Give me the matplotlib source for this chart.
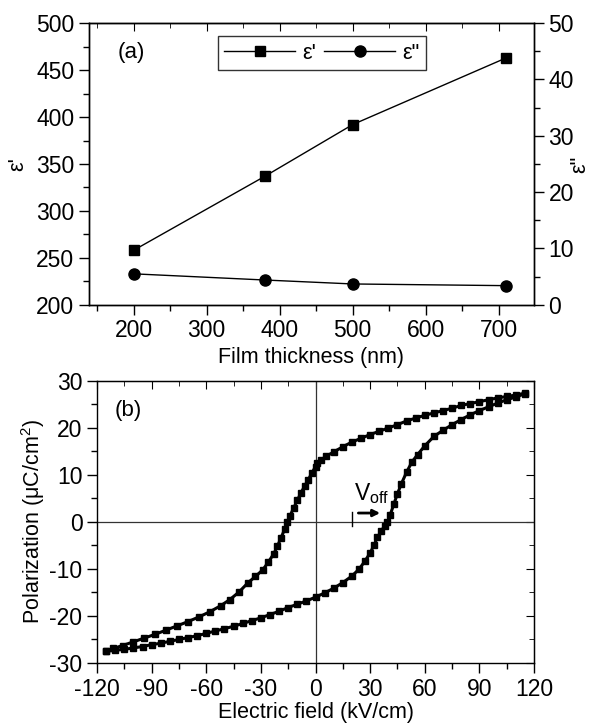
import matplotlib
matplotlib.use("Agg")
import matplotlib.pyplot as plt
from matplotlib.ticker import MultipleLocator

plt.rcParams['font.family'] = ['Liberation Sans', 'DejaVu Sans']
plt.rcParams['mathtext.fontset'] = 'custom'
plt.rcParams['mathtext.rm'] = 'Liberation Sans'
plt.rcParams['mathtext.it'] = 'Liberation Sans:italic'
plt.rcParams['axes.unicode_minus'] = False

# panel (a): dielectric constant vs film thickness
thickness = [200, 380, 500, 710]
eps_real = [258, 337, 392, 463]
eps_imag = [5.5, 4.4, 3.7, 3.4]

# panel (b): hysteresis loop, upper (descending field) branch
e_down = [115, 110, 105, 100, 95, 90, 85, 80, 75, 70, 65, 60, 55, 50, 45, 40,
          35, 30, 25, 20, 15, 10, 6, 3, 1, 0, -2, -4, -6, -8, -10, -12, -14,
          -15.5, -17, -19, -21, -23, -26, -29, -33, -37, -42, -47, -52, -58,
          -64, -70, -76, -82, -88, -94, -100, -106, -111, -115]
p_down = [27.4, 27.0, 26.7, 26.4, 26.0, 25.6, 25.2, 24.8, 24.2, 23.7, 23.2,
          22.7, 22.1, 21.5, 20.7, 20.0, 19.3, 18.6, 17.8, 17.0, 16.0, 14.9,
          14.0, 13.2, 12.5, 11.8, 10.4, 9.0, 7.6, 6.2, 4.6, 3.0, 1.3, 0.0,
          -1.6, -3.4, -5.2, -6.8, -8.6, -10.2, -11.6, -12.9, -14.9, -16.5,
          -17.8, -19.1, -20.2, -21.2, -22.1, -23.0, -23.9, -24.7, -25.5,
          -26.3, -26.9, -27.4]
# lower (ascending field) branch
e_up = [-115, -110, -105, -100, -95, -90, -85, -80, -75, -70, -65, -60, -55,
        -50, -45, -40, -35, -30, -25, -20, -15, -10, -5, 0, 5, 10, 15, 20, 24,
        27, 30, 32, 34, 36, 38, 39.5, 41, 43, 45, 47, 50, 53, 56, 60, 65, 70,
        75, 80, 85, 90, 95, 100, 105, 110, 115]
p_up = [-27.5, -27.3, -27.1, -26.8, -26.5, -26.1, -25.8, -25.4, -25.0, -24.6,
        -24.2, -23.7, -23.2, -22.7, -22.2, -21.6, -21.0, -20.4, -19.7, -19.0,
        -18.2, -17.5, -16.8, -16.0, -15.1, -14.1, -12.9, -11.5, -10.0, -8.4,
        -6.6, -5.0, -3.3, -2.0, -0.8, 0.0, 1.5, 3.8, 6.0, 8.0, 10.6, 12.8,
        14.3, 16.2, 18.2, 19.5, 20.7, 21.8, 22.8, 23.7, 24.5, 25.3, 26.0,
        26.6, 27.3]

FS = 15.5
TFS = 16.5

fig = plt.figure(figsize=(5.89, 7.24), dpi=100)

# ---- (a) ----
ax1 = fig.add_axes([0.151, 0.579, 0.7555, 0.389])
ax2 = ax1.twinx()
l1, = ax1.plot(thickness, eps_real, 'k-', marker='s', ms=7.5, lw=1, label="\u03b5'")
l2, = ax2.plot(thickness, eps_imag, 'k-', marker='o', ms=8, lw=1, label='\u03b5"')
ax1.set_xlim(139, 748)
ax1.set_ylim(200, 500)
ax2.set_ylim(0, 50)
ax1.xaxis.set_major_locator(MultipleLocator(100))
ax1.xaxis.set_minor_locator(MultipleLocator(50))
ax1.yaxis.set_major_locator(MultipleLocator(50))
ax1.yaxis.set_minor_locator(MultipleLocator(25))
ax2.yaxis.set_major_locator(MultipleLocator(10))
ax2.yaxis.set_minor_locator(MultipleLocator(5))
ax1.tick_params(axis='x', which='both', direction='out', top=False)
ax1.tick_params(axis='y', which='both', direction='out', right=False)
ax2.tick_params(axis='y', which='both', direction='out')
sec = ax1.secondary_xaxis('top')
sec.xaxis.set_major_locator(MultipleLocator(100))
sec.xaxis.set_minor_locator(MultipleLocator(50))
sec.tick_params(which='both', direction='in', labeltop=False)
sec.tick_params(which='major', length=6)
sec.tick_params(which='minor', length=3.5)
for a in (ax1, ax2):
    a.tick_params(which='major', length=7, width=1, labelsize=TFS)
    a.tick_params(which='minor', length=4, width=1)
ax1.set_xlabel('Film thickness (nm)', fontsize=FS, labelpad=3)
ax1.set_ylabel("\u03b5'", fontsize=FS, labelpad=6)
ax2.set_ylabel('\u03b5"', fontsize=FS)
ax2.yaxis.set_label_coords(1.08, 0.5)
ax1.text(0.065, 0.897, '(a)', transform=ax1.transAxes, fontsize=FS + 0.5, va='center')
leg = ax1.legend(handles=[l1, l2], loc='upper left', bbox_to_anchor=(0.29, 0.954),
                 borderaxespad=0, ncol=2, fontsize=FS, numpoints=1,
                 handlelength=3.3, columnspacing=0.4, handletextpad=0.3,
                 fancybox=False, edgecolor='black', borderpad=0.3)
leg.get_frame().set_linewidth(1)

# ---- (b) ----
ax3 = fig.add_axes([0.1647, 0.0843, 0.742, 0.3895])
ax3.axhline(0, color='#333333', lw=0.9)
ax3.axvline(0, color='#333333', lw=0.9)
ax3.plot(e_down, p_down, 'k-', lw=2.2, marker='s', ms=4)
ax3.plot(e_up, p_up, 'k-', lw=2.2, marker='s', ms=4)
ax3.set_xlim(-120, 120)
ax3.set_ylim(-30, 30)
ax3.xaxis.set_major_locator(MultipleLocator(30))
ax3.xaxis.set_minor_locator(MultipleLocator(15))
ax3.yaxis.set_major_locator(MultipleLocator(10))
ax3.yaxis.set_minor_locator(MultipleLocator(5))
ax3.tick_params(which='both', direction='out', top=False, right=False, labelsize=TFS)
ax3.tick_params(which='major', length=7, width=1)
ax3.tick_params(which='minor', length=4, width=1)
for side in ('top', 'right'):
    s = ax3.secondary_xaxis('top') if side == 'top' else ax3.secondary_yaxis('right')
    ax_ = s.xaxis if side == 'top' else s.yaxis
    ax_.set_major_locator(MultipleLocator(30 if side == 'top' else 10))
    ax_.set_minor_locator(MultipleLocator(15 if side == 'top' else 5))
    s.tick_params(which='both', direction='in', labeltop=False, labelright=False)
    s.tick_params(which='major', length=6)
    s.tick_params(which='minor', length=3.5)
ax3.set_xlabel('Electric field (kV/cm)', fontsize=FS, labelpad=1)
ax3.set_ylabel('Polarization (\u03bcC/cm$^\\mathregular{2}$)', fontsize=FS, labelpad=2)
ax3.text(0.041, 0.897, '(b)', transform=ax3.transAxes, fontsize=FS + 0.5, va='center')

# V_off marker
ax3.plot([20.2, 20.2], [-0.9, 2.2], color='black', lw=1)
ax3.annotate('', xy=(37, 1.9), xytext=(22, 1.9),
             arrowprops=dict(arrowstyle='-|>', color='black', lw=2, mutation_scale=10))
ax3.text(21, 4.7, 'V$_\\mathregular{off}$', fontsize=FS + 1)

for a in (ax1, ax2, ax3):
    for sp in a.spines.values():
        sp.set_linewidth(1)

fig.savefig('out.png', dpi=100)
